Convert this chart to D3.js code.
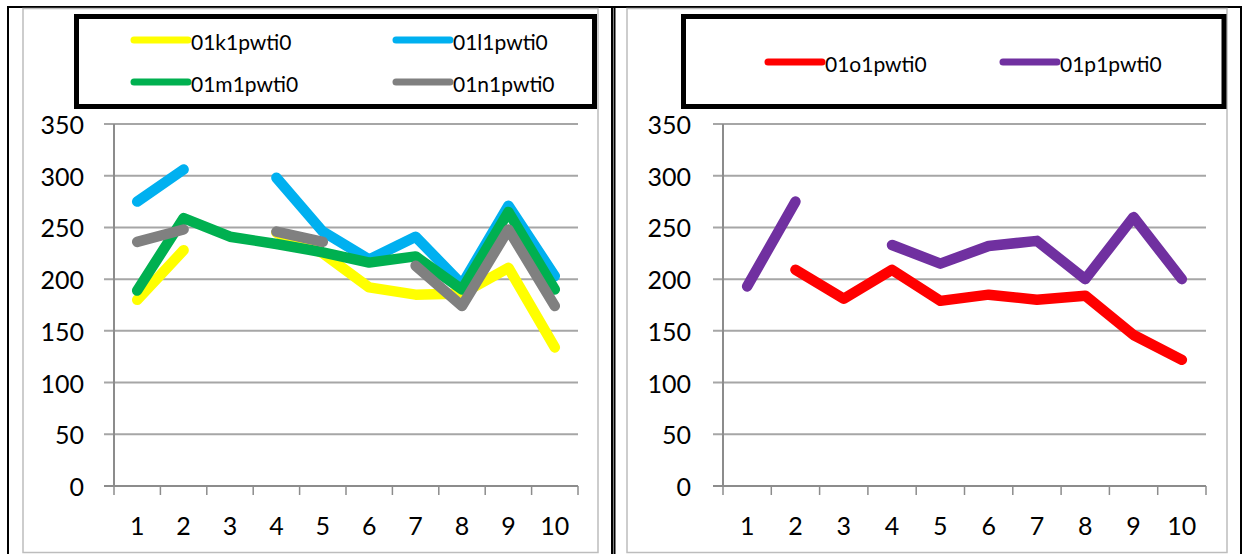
<!DOCTYPE html>
<html>
<head>
<meta charset="utf-8">
<script src="https://cdn.jsdelivr.net/npm/d3@7"></script>
<style>
  html, body { margin: 0; padding: 0; background: #fff; }
  svg { display: block; }
  text { font-family: Lato, "Open Sans", sans-serif; fill: #000; }
</style>
</head>
<body>
<svg id="chart" width="1246" height="554"></svg>
<script>
// Categories shared by both panels
const categories = [1, 2, 3, 4, 5, 6, 7, 8, 9, 10];
const yTicks = [0, 50, 100, 150, 200, 250, 300, 350];

// Left panel series (null = no reading)
const k1 = [180, 228, null, 245, 225, 192, 185, 186, 211, 134];
const l1 = [275, 306, null, 298, 246, 219, 241, 195, 271, 203];
const m1 = [189, 259, 241, 234, 226, 216, 222, 190, 265, 190];
const n1 = [236, 248, null, 246, 236, null, 213, 174, 248, 174];

// Right panel series
const o1 = [null, 209, 181, 209, 179, 185, 180, 184, 146, 122];
const p1 = [193, 275, null, 233, 215, 232, 237, 200, 260, 200];

const svg = d3.select("#chart");

// Table cell frames around the two charts
const frame = svg.append("g");
[[8, 7, 8, 554], [612, 7, 612, 554], [614.5, 7, 614.5, 554], [1241, 7, 1241, 554], [7, 7, 1242, 7]]
  .forEach(([x1, y1, x2, y2]) => frame.append("line")
    .attr("x1", x1).attr("y1", y1).attr("x2", x2).attr("y2", y2)
    .attr("stroke", "#000").attr("stroke-width", 2));

function panel(cfg) {
  const g = svg.append("g");

  // chart area border
  g.append("rect")
    .attr("x", cfg.box[0]).attr("y", 8.5)
    .attr("width", cfg.box[1] - cfg.box[0]).attr("height", 544)
    .attr("fill", "none").attr("stroke", "#bdbdbd").attr("stroke-width", 1.5);

  const x = d3.scaleBand().domain(categories).range([cfg.axisX, cfg.axisEnd]).padding(0);
  const y = d3.scaleLinear().domain([0, 350]).range([486, 124]);
  const cx = c => x(c) + x.bandwidth() / 2;

  // horizontal gridlines
  g.append("g").selectAll("line").data(yTicks.filter(v => v > 0)).join("line")
    .attr("x1", cfg.axisX - 10).attr("x2", cfg.axisEnd)
    .attr("y1", d => y(d)).attr("y2", d => y(d))
    .attr("stroke", "#a6a6a6").attr("stroke-width", 2);

  // axes
  g.append("line").attr("x1", cfg.axisX).attr("x2", cfg.axisX)
    .attr("y1", y(350)).attr("y2", y(0))
    .attr("stroke", "#8c8c8c").attr("stroke-width", 2);
  g.append("line").attr("x1", cfg.axisX - 10).attr("x2", cfg.axisEnd)
    .attr("y1", y(0)).attr("y2", y(0))
    .attr("stroke", "#8c8c8c").attr("stroke-width", 2);
  const bounds = categories.map(c => x(c)).concat([cfg.axisEnd]);
  g.append("g").selectAll("line").data(bounds).join("line")
    .attr("x1", d => d).attr("x2", d => d)
    .attr("y1", y(0)).attr("y2", y(0) + 9)
    .attr("stroke", "#8c8c8c").attr("stroke-width", 1.5);

  // tick labels
  g.append("g").selectAll("text").data(yTicks).join("text")
    .attr("x", cfg.labelRight).attr("y", d => y(d))
    .attr("text-anchor", "end").attr("dominant-baseline", "central")
    .attr("font-size", 25).text(d => d);
  g.append("g").selectAll("text").data(categories).join("text")
    .attr("x", d => cx(d)).attr("y", 525)
    .attr("text-anchor", "middle").attr("dominant-baseline", "central")
    .attr("font-size", 25).text(d => d);

  // series lines
  const line = d3.line()
    .defined(d => d.v !== null)
    .x(d => cx(d.c)).y(d => y(d.v));
  cfg.series.forEach(s => {
    g.append("path")
      .datum(categories.map((c, i) => ({ c, v: s.values[i] })))
      .attr("d", line)
      .attr("fill", "none").attr("stroke", s.color)
      .attr("stroke-width", 10.5)
      .attr("stroke-linecap", "round").attr("stroke-linejoin", "round");
  });

  // legend
  g.append("rect")
    .attr("x", cfg.legend[0]).attr("y", 16.5)
    .attr("width", cfg.legend[1] - cfg.legend[0]).attr("height", 90)
    .attr("fill", "#fff").attr("stroke", "#000").attr("stroke-width", 5);
  cfg.series.forEach(s => {
    const [lx, ly] = s.pos;
    g.append("line").attr("x1", lx).attr("x2", lx + 54).attr("y1", ly).attr("y2", ly)
      .attr("stroke", s.color).attr("stroke-width", 7).attr("stroke-linecap", "round");
    g.append("text").attr("x", lx + 57).attr("y", ly + 1)
      .attr("dominant-baseline", "central").attr("font-size", 21).text(s.name);
  });
}

panel({
  box: [23, 598], axisX: 114, axisEnd: 578, labelRight: 84, legend: [76.5, 594.5],
  series: [
    { name: "01k1pwti0", values: k1, color: "#ffff00", pos: [134, 40] },
    { name: "01l1pwti0", values: l1, color: "#00b0f0", pos: [396, 40] },
    { name: "01m1pwti0", values: m1, color: "#00b050", pos: [134, 82] },
    { name: "01n1pwti0", values: n1, color: "#808080", pos: [396, 82] }
  ]
});

panel({
  box: [627, 1227], axisX: 723, axisEnd: 1206, labelRight: 691, legend: [683.5, 1224],
  series: [
    { name: "01o1pwti0", values: o1, color: "#ff0000", pos: [768, 62] },
    { name: "01p1pwti0", values: p1, color: "#7030a0", pos: [1003, 62] }
  ]
});
</script>
</body>
</html>
